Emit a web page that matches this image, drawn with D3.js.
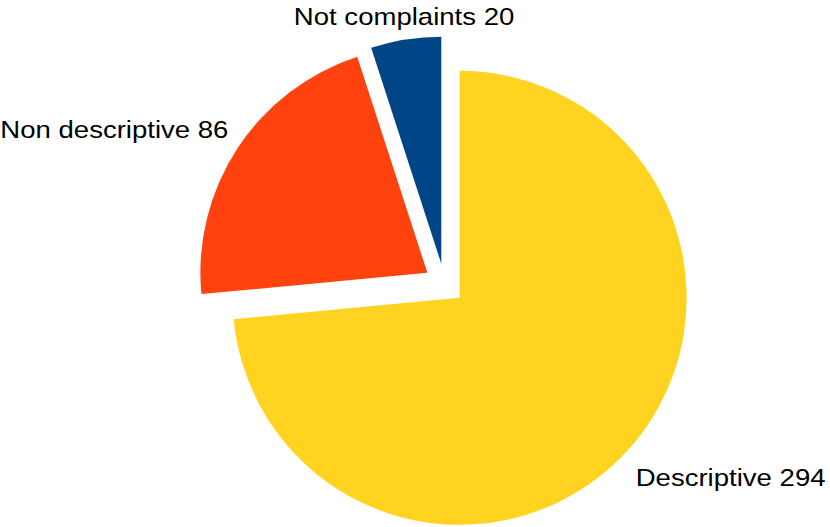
<!DOCTYPE html>
<html lang="en">
<head>
	<meta charset="utf-8">
	<script src="https://d3js.org/d3.v7.min.js"></script>
	<title>Complaints pie</title>
	<style>
		body { margin: 0; background: #fff; }
		text { font-family: "Liberation Sans", Arial, sans-serif; fill: #000; }
	</style>
</head>
<body>
	<svg width="830" height="527"></svg>
	<script>
	// data
	var categories = ["Descriptive", "Non descriptive", "Not complaints"];
	var values = [294, 86, 20];
	var colors = ["#ffd320", "#ff420e", "#004586"];

	var svg = d3.select("svg");
	var cx = 444.5, cy = 284;   // pie centre
	var radius = 227;
	var explode = 20.5;         // every slice pulled out by this much
	var labelGap = 11;
	var fontSize = 24;
	var stretch = 1.148;        // the labels are drawn a bit wide

	var pie = d3.pie().sort(null).value(function(d){ return d; });
	var arc = d3.arc().innerRadius(0).outerRadius(radius);
	var slices = pie(values);

	var g = svg.append("g").attr("transform", "translate(" + cx + "," + cy + ")");

	// direction of the middle of each slice
	function dir(d) {
		var a = (d.startAngle + d.endAngle) / 2;
		return [Math.sin(a), -Math.cos(a)];
	}

	g.selectAll("path")
		.data(slices)
		.enter()
		.append("path")
		.attr("d", arc)
		.attr("fill", function(d, i){ return colors[i]; })
		.attr("transform", function(d){
			var v = dir(d);
			return "translate(" + v[0] * explode + "," + v[1] * explode + ")";
		});

	// labels sit just outside the slice, corner nearest the pie touching it
	g.selectAll("text")
		.data(slices)
		.enter()
		.append("text")
		.style("font-size", fontSize + "px")
		.attr("text-anchor", function(d){
			var v = dir(d);
			if (Math.abs(v[0]) < 0.3) return "middle";
			return v[0] > 0 ? "start" : "end";
		})
		.attr("transform", function(d){
			var v = dir(d);
			var x = v[0] * (explode + radius + labelGap);
			var y = v[1] * (explode + radius + labelGap);
			y = v[1] > 0 ? y + fontSize * 1.15 : y - fontSize * 0.15;
			return "translate(" + x + "," + y + ") scale(" + stretch + ",1)";
		})
		.text(function(d, i){ return categories[i] + " " + values[i]; });
	</script>
</body>
</html>
